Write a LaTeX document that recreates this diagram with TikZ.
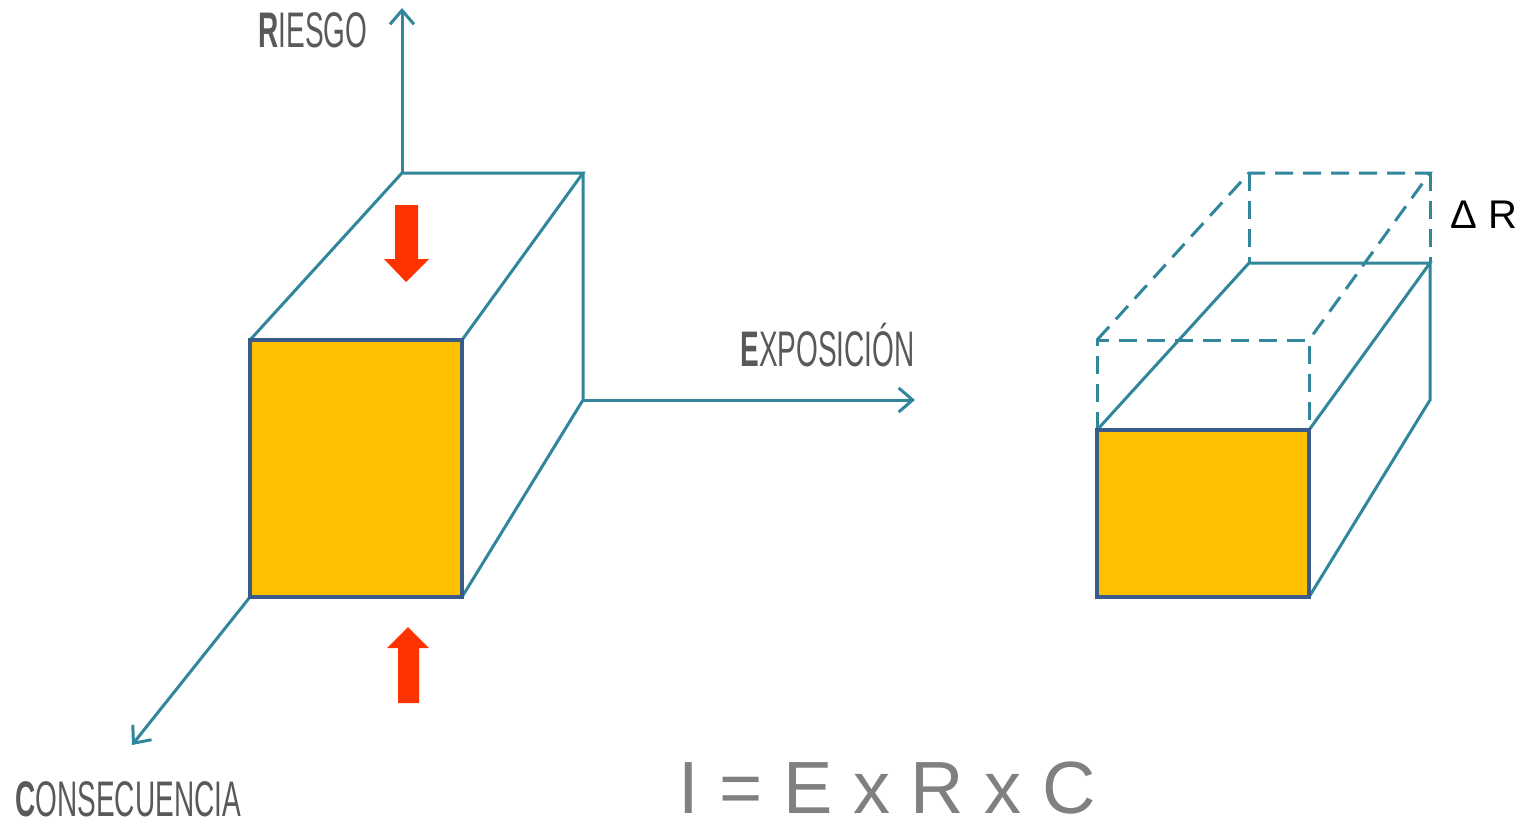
\documentclass[tikz,border=0pt]{standalone}
\usepackage{fontspec}
\setmainfont{Liberation Sans}
\newfontfamily\axisfont[FakeStretch=0.56]{Liberation Sans}
\usetikzlibrary{arrows.meta}
\usetikzlibrary{positioning}

\definecolor{tealline}{HTML}{31869B}
\definecolor{faceblue}{HTML}{3A5A8A}
\definecolor{faceorange}{HTML}{FFC000}
\definecolor{redarrow}{HTML}{FF3300}
\definecolor{labelgray}{HTML}{595959}
\definecolor{formulagray}{HTML}{808080}

\begin{document}
\begin{tikzpicture}[
		x=0.5pt, y=-0.5pt,
		edge/.style={
			draw=tealline,
			line width=1.5pt},
		hidden/.style={
			draw=tealline,
			line width=1.5pt,
			dash pattern=on 9pt off 5pt},
		axis/.style={
			draw=tealline,
			line width=1.5pt,
			-{Straight Barb[length=7pt,width=12pt,line width=1.5pt]}},
		face/.style={
			draw=faceblue,
			fill=faceorange,
			line width=2pt},
		push/.style={
			fill=redarrow},
		axislabel/.style={
			anchor=base west,
			inner sep=0pt,
			text depth=0pt,
			text=labelgray,
			font=\axisfont\fontsize{25}{25}\selectfont},
		]
		\useasboundingbox (0,0) rectangle (1526,824);

		%Left box corners
		\coordinate (lbtl) at (402,173);
		\coordinate (lbtr) at (583,173);
		\coordinate (lbbr) at (583,400);
		\coordinate (lftl) at (250,340);
		\coordinate (lftr) at (462,340);
		\coordinate (lfbr) at (462,597);
		\coordinate (lfbl) at (250,597);

		%Axes
		\coordinate (riesgo_end) at (402,8);
		\coordinate (expo_end) at (915,400);
		\coordinate (conse_end) at (132,745);
		\draw[axis] (lbtl) -- (riesgo_end);
		\draw[axis] (lbbr) -- (expo_end);
		\draw[axis] (lfbl) -- (conse_end);

		%Left box
		\draw[edge] (lftl) -- (lbtl) -- (lbtr) -- (lftr);
		\draw[edge] (lbtr) -- (lbbr) -- (lfbr);
		\draw[face] (lftl) rectangle (lfbr);

		%Red arrows
		\fill[push] (395,205) -- (418,205) -- (418,259) -- (429,259) -- (406,282) -- (384,259) -- (395,259) -- cycle;
		\fill[push] (398,703) -- (419,703) -- (419,648) -- (429,648) -- (408,627) -- (387,648) -- (398,648) -- cycle;

		%Axis labels
		\node (riesgo)[axislabel] at (258,48) {\textbf{R}IESGO};
		\node (expo)[axislabel] at (740,366) {\textbf{E}XPOSICIÓN};
		\node (conse)[axislabel] at (15,816) {\textbf{C}ONSECUENCIA};

		%Right box corners
		\coordinate (rbtl) at (1249,263);
		\coordinate (rbtr) at (1430,263);
		\coordinate (rbbr) at (1430,400);
		\coordinate (rftl) at (1097,430);
		\coordinate (rftr) at (1309,430);
		\coordinate (rfbr) at (1309,597);
		\coordinate (rftl_up) at (1097,340);
		\coordinate (rftr_up) at (1309,340);
		\coordinate (rbtl_up) at (1249,173);
		\coordinate (rbtr_up) at (1430,173);

		%Right box, former height
		\draw[hidden] (rftl) -- (rftl_up) -- (rftr_up) -- (rftr);
		\draw[hidden] (rftl_up) -- (rbtl_up) -- (rbtr_up) -- (rftr_up);
		\draw[hidden] (rbtl_up) -- (rbtl);
		\draw[hidden] (rbtr_up) -- (rbtr);

		%Right box
		\draw[edge] (rftl) -- (rbtl) -- (rbtr) -- (rftr);
		\draw[edge] (rbtr) -- (rbbr) -- (rfbr);
		\draw[face] (rftl) rectangle (rfbr);

		%Delta label
		\node (delta)[anchor=base west, inner sep=0pt, font=\fontsize{20}{20}\selectfont] at (1450,228) {Δ R};

		%Formula
		\node (formula)[anchor=base west, inner sep=0pt, text depth=0pt, text=formulagray, font=\fontsize{37}{37}\selectfont] at (678,813) {I = E x R x C};

	\end{tikzpicture}
\end{document}
